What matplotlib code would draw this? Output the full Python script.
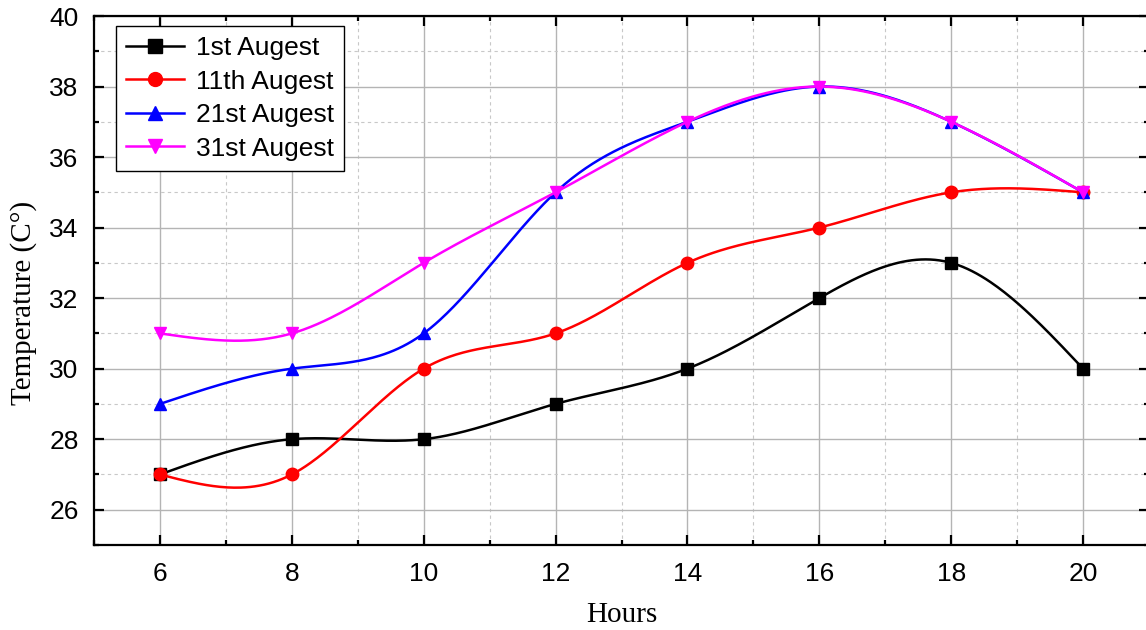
import numpy as np
import matplotlib
matplotlib.use("Agg")
import matplotlib.pyplot as plt
from matplotlib.ticker import MultipleLocator

hours = [6, 8, 10, 12, 14, 16, 18, 20]
aug1 = [27, 28, 28, 29, 30, 32, 33, 30]
aug11 = [27, 27, 30, 31, 33, 34, 35, 35]
aug21 = [29, 30, 31, 35, 37, 38, 37, 35]
aug31 = [31, 31, 33, 35, 37, 38, 37, 35]
labels = ["1st Augest", "11th Augest", "21st Augest", "31st Augest"]
colors = ["#000000", "#ff0000", "#0000ff", "#ff00ff"]
markers = ["s", "o", "^", "v"]


def natural_spline(x, y, n=400):
    x = np.asarray(x, float)
    y = np.asarray(y, float)
    k = len(x)
    h = np.diff(x)
    A = np.zeros((k, k))
    b = np.zeros(k)
    A[0, 0] = 1
    A[-1, -1] = 1
    for i in range(1, k - 1):
        A[i, i - 1] = h[i - 1]
        A[i, i] = 2 * (h[i - 1] + h[i])
        A[i, i + 1] = h[i]
        b[i] = 3 * ((y[i + 1] - y[i]) / h[i] - (y[i] - y[i - 1]) / h[i - 1])
    c = np.linalg.solve(A, b)
    xs = np.linspace(x[0], x[-1], n)
    ys = np.empty_like(xs)
    for j, xv in enumerate(xs):
        i = min(np.searchsorted(x, xv, side="right") - 1, k - 2)
        d = xv - x[i]
        bi = (y[i + 1] - y[i]) / h[i] - h[i] * (2 * c[i] + c[i + 1]) / 3
        di = (c[i + 1] - c[i]) / (3 * h[i])
        ys[j] = y[i] + bi * d + c[i] * d ** 2 + di * d ** 3
    return xs, ys


fig = plt.figure(figsize=(11.46, 6.30), dpi=100)
ax = fig.add_axes([94 / 1146, 1 - 545 / 630, (1149 - 94) / 1146, (545 - 16) / 630])

series = [aug1, aug11, aug21, aug31]
for i, (s, lab, col, mk) in enumerate(zip(series, labels, colors, markers)):
    xs, ys = natural_spline(hours, s)
    ax.plot(xs, ys, color=col, lw=1.8, zorder=3 + i)
    ax.plot(hours, s, linestyle="none", marker=mk, color=col, ms=9, zorder=3 + i)
    ax.plot([], [], color=col, lw=1.8, marker=mk, ms=10, label=lab)

ax.set_xlim(5, 21)
ax.set_ylim(25, 40)
ax.xaxis.set_minor_locator(MultipleLocator(1))
ax.yaxis.set_minor_locator(MultipleLocator(1))
ax.set_xticks([6, 8, 10, 12, 14, 16, 18, 20])
ax.set_yticks([26, 28, 30, 32, 34, 36, 38, 40])

ax.grid(which="major", color="#b4b4b4", lw=1.0, ls="-", zorder=0)
ax.grid(which="minor", color="#c8c8c8", lw=0.8, ls=(0, (3, 3)), zorder=0)
ax.set_axisbelow(True)

for sp in ax.spines.values():
    sp.set_linewidth(1.6)
ax.tick_params(which="major", direction="in", length=7, width=1.6,
               top=True, right=True, labelsize=19,
               labelfontfamily="Liberation Sans")
ax.tick_params(axis="x", which="major", pad=12)
ax.tick_params(axis="y", which="major", pad=11)
ax.tick_params(which="minor", direction="in", length=3.5, width=1.6,
               top=True, right=True)

ax.set_xlabel("Hours", fontsize=21, family="Liberation Serif", labelpad=12)
ax.set_ylabel("Temperature (C°)", fontsize=21, family="Liberation Serif")
ax.yaxis.set_label_coords(-0.054, 0.458)

leg = ax.legend(loc="upper left", bbox_to_anchor=(22 / 1055, 1 - 10 / 529),
                prop={"family": "Liberation Sans", "size": 19},
                frameon=True, fancybox=False, edgecolor="black",
                handlelength=2.2, handletextpad=0.45, borderpad=0.38,
                labelspacing=0.36, borderaxespad=0)
leg.get_frame().set_linewidth(1.0)
leg.get_frame().set_alpha(1)

fig.savefig("out.png", dpi=100)
